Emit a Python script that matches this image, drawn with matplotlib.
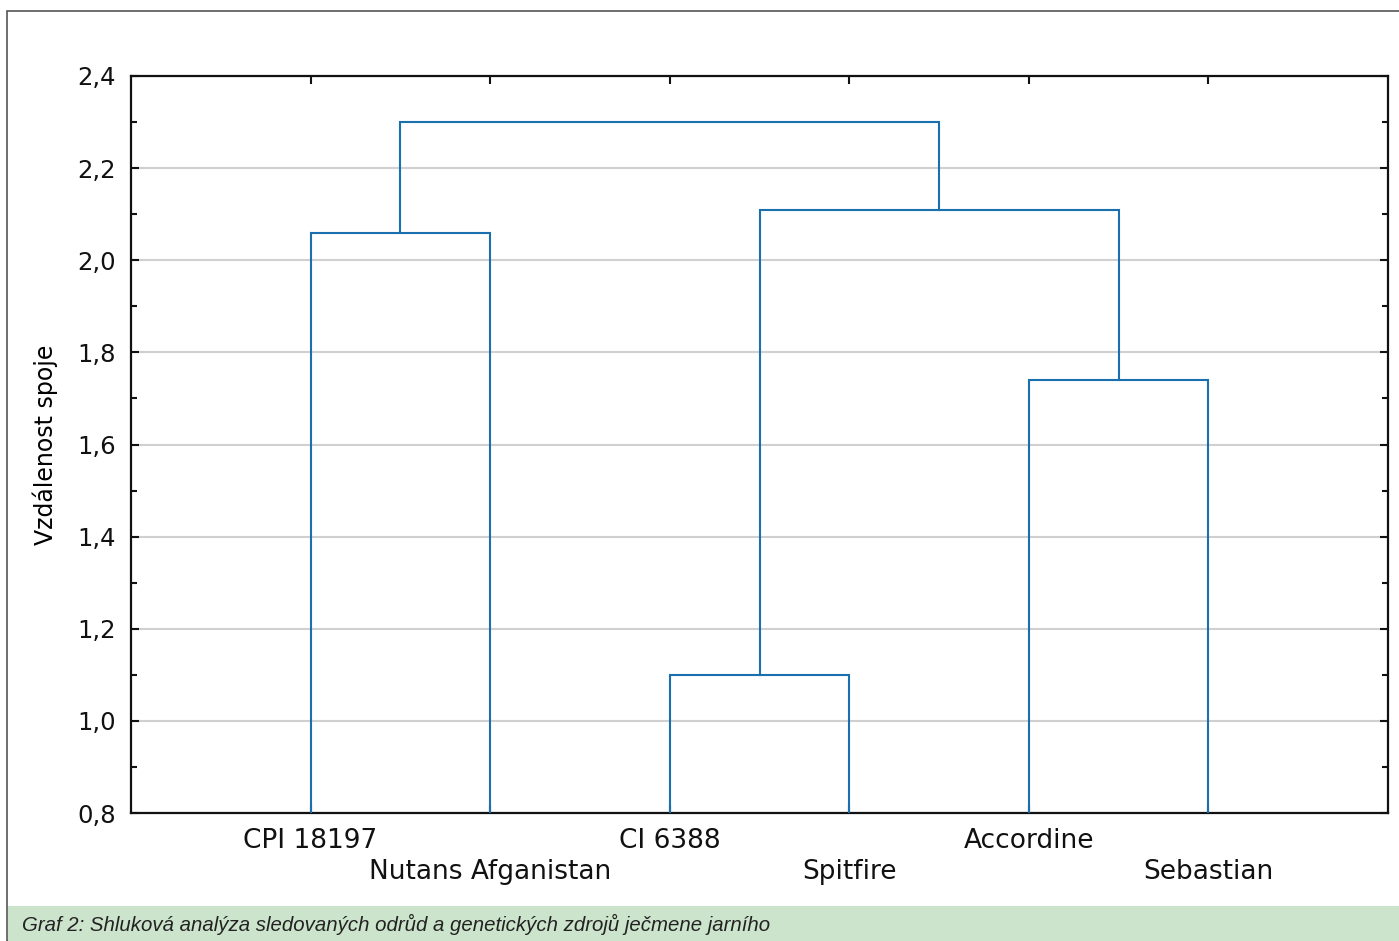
import matplotlib
matplotlib.use('Agg')
import matplotlib.pyplot as plt
from matplotlib.patches import Rectangle
from matplotlib.ticker import FuncFormatter, MultipleLocator

# leaves in dendrogram order
leaves = ['CPI 18197', 'Nutans Afganistan', 'CI 6388', 'Spitfire', 'Accordine', 'Sebastian']
# linkage: node ids 0..5 are leaves, 6.. are clusters in merge order
link_left = [0, 2, 4, 7, 6]
link_right = [1, 3, 5, 8, 9]
link_height = [2.06, 1.10, 1.74, 2.11, 2.30]

y_label = 'Vzdálenost spoje'
caption = 'Graf 2: Shluková analýza sledovaných odrůd a genetických zdrojů ječmene jarního'

plt.rcParams['font.family'] = ['DejaVu Sans']

fig = plt.figure(figsize=(13.99, 9.41), dpi=100)

# outer frame and caption band
fig.patches.append(Rectangle((7 / 1399, 0), 1.0, 1 - 11 / 941, transform=fig.transFigure,
                             fill=False, edgecolor='#555555', linewidth=1.2))
fig.patches.append(Rectangle((8 / 1399, 0), 1.0, 35 / 941, transform=fig.transFigure,
                             facecolor='#cde4cc', edgecolor='none'))
fig.text(22 / 1399, 17 / 941, caption, fontsize=14.7, style='italic', color='#222222',
         va='center', ha='left', family=['Liberation Sans', 'DejaVu Sans'])

ax = fig.add_axes([131 / 1399, 1 - 813 / 941, 1257 / 1399, 737 / 941])

line_color = '#1a6fae'
node_x = {i: i + 1 for i in range(len(leaves))}
node_y = {i: 0.8 for i in range(len(leaves))}
for k, (a, b, h) in enumerate(zip(link_left, link_right, link_height)):
    xa, xb = node_x[a], node_x[b]
    ax.plot([xa, xa, xb, xb], [node_y[a], h, h, node_y[b]], color=line_color,
            linewidth=1.5, solid_joinstyle='miter', zorder=3)
    node_x[len(leaves) + k] = (xa + xb) / 2
    node_y[len(leaves) + k] = h

ax.set_xlim(0, len(leaves) + 1)
ax.set_ylim(0.8, 2.4)

ax.yaxis.set_major_locator(MultipleLocator(0.2))
ax.yaxis.set_minor_locator(MultipleLocator(0.1))
ax.yaxis.set_major_formatter(FuncFormatter(lambda v, p: f'{v:.1f}'.replace('.', ',')))
ax.set_xticks(range(1, len(leaves) + 1))
ax.set_xticklabels([])

ax.tick_params(axis='y', which='both', direction='in', left=True, right=True,
               labelsize=17.5, pad=11, colors='#111111', width=1.5)
ax.tick_params(axis='y', which='major', length=6)
ax.tick_params(axis='y', which='minor', length=4)
ax.tick_params(axis='x', which='both', direction='in', top=True, bottom=True,
               length=6, width=1.5, colors='#111111')

ax.grid(axis='y', which='major', color='#d0d0d0', linewidth=1.5)
ax.set_axisbelow(True)
for s in ax.spines.values():
    s.set_linewidth(1.6)
    s.set_color('#111111')

ax.set_ylabel(y_label, fontsize=17, labelpad=14)

# staggered leaf labels
for i, name in enumerate(leaves):
    off = -20 if i % 2 == 0 else -42.5
    ax.annotate(name, xy=(i + 1, 0), xycoords=('data', 'axes fraction'),
                xytext=(0, off), textcoords='offset points', ha='center', va='center',
                fontsize=19, color='#111111')

fig.savefig('out.png', dpi=100)
